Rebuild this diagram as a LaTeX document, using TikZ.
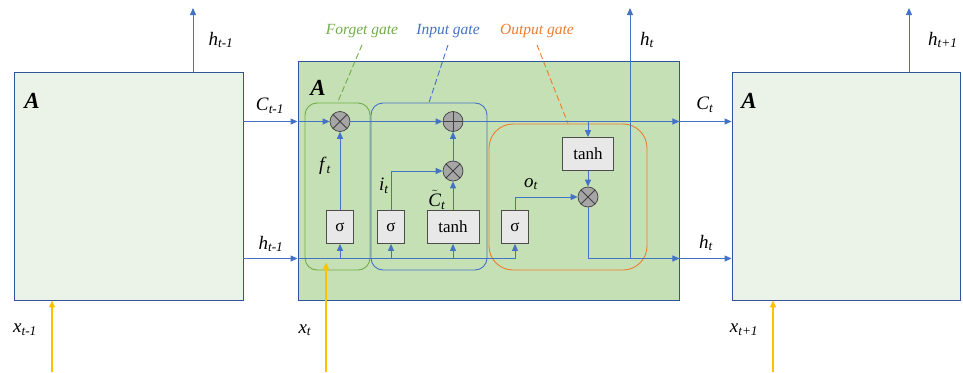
\documentclass[tikz,border=0pt]{standalone}
\usepackage{fontspec}
\setmainfont{Liberation Serif}
\usepackage{xcolor}
\usetikzlibrary{arrows.meta}
\definecolor{flowblue}{HTML}{4472C4}
\definecolor{edgeblue}{HTML}{2F5597}
\definecolor{cellfill}{HTML}{C5E0B4}
\definecolor{palefill}{HTML}{EBF3E8}
\definecolor{forgetgreen}{HTML}{70AD47}
\definecolor{outorange}{HTML}{ED7D31}
\definecolor{inyellow}{HTML}{FFC000}
\newcommand{\lbl}[2]{\textit{#1}\textsubscript{\textit{#2}}}

\begin{document}
\begin{tikzpicture}[x=1pt,y=-1pt,every node/.style={inner sep=0pt,font=\fontsize{19}{19}\selectfont},
  unit/.style={draw=edgeblue,line width=0.9pt,minimum width=229pt,minimum height=228pt},
  gatebox/.style={draw=black!70,fill=black!9,line width=0.8pt,minimum width=27pt,minimum height=33pt,font=\fontsize{17}{17}\selectfont},
  op/.style={circle,draw=black!75,fill=black!35,line width=0.7pt,minimum size=20pt},
  mul/.style={op,path picture={\draw[black!75,line width=0.8pt] (path picture bounding box.north west) -- (path picture bounding box.south east) (path picture bounding box.north east) -- (path picture bounding box.south west);}},
  add/.style={op,path picture={\draw[black!75,line width=0.8pt] (path picture bounding box.north) -- (path picture bounding box.south) (path picture bounding box.east) -- (path picture bounding box.west);}},
  region/.style={line width=0.9pt,rounded corners=12pt},
  flow/.style={draw=flowblue,line width=1pt,-{Triangle[length=7pt,width=6pt]}},
  wire/.style={draw=flowblue,line width=1pt},
  xin/.style={draw=inyellow,line width=1.2pt,-{Triangle[length=7pt,width=6pt]}},
  leader/.style={line width=0.9pt,dash pattern=on 6pt off 3pt},
  gatename/.style={font=\fontsize{15.5}{15.5}\selectfont\itshape},
  bigA/.style={font=\fontsize{23}{23}\selectfont\bfseries\itshape}]
\useasboundingbox (0,0) rectangle (963,372);
\node[unit,fill=palefill] (prev) at (128.5,186) {};
\node[unit,fill=cellfill,minimum width=381pt,minimum height=239pt] (cell) at (488.5,180.5) {};
\node[unit,fill=palefill,minimum width=228pt] (next) at (846,186) {};
\node[bigA] (aprev) at (32,101) {A};
\node[bigA] (acell) at (318,88) {A};
\node[bigA] (anext) at (749,101) {A};
\node[draw=forgetgreen,region,minimum width=65pt,minimum height=167pt] (fgate) at (337.5,186.5) {};
\node[draw=flowblue,region,minimum width=116pt,minimum height=167pt] (igate) at (429,186.5) {};
\node[draw=outorange,region,rounded corners=24pt,minimum width=158pt,minimum height=146pt] (ogate) at (568,197) {};
\node[gatename,text=forgetgreen] (flab) at (362,31) {Forget gate};
\node[gatename,text=flowblue] (ilab) at (448,31) {Input gate};
\node[gatename,text=outorange] (olab) at (537,31) {Output gate};
\draw[leader,forgetgreen] (flab.south) ++(0,7) -- (fgate.north);
\draw[leader,flowblue] (ilab.south) ++(0,7) -- (igate.north);
\draw[leader,outorange] (olab.south) ++(0,7) -- (ogate.north);
\node[mul] (fmul) at (340,121.5) {};
\node[add] (cadd) at (453,121.5) {};
\node[mul] (imul) at (453,171) {};
\node[mul] (omul) at (588,197) {};
\node[gatebox] (fsig) at (340,227) {σ};
\node[gatebox] (isig) at (391,227) {σ};
\node[gatebox,minimum width=52pt] (itanh) at (453,227) {tanh};
\node[gatebox] (osig) at (515,227) {σ};
\node[gatebox,minimum width=51pt] (otanh) at (588,154) {tanh};
\coordinate (hrow) at (0,258.5);
\coordinate (hprev) at (193,8);
\coordinate (hcell) at (630,8);
\coordinate (hnext) at (909,8);
\coordinate (xprev) at (52,372);
\coordinate (xcell) at (326,372);
\coordinate (xnext) at (773,372);
% cell state
\draw[flow] (prev.east |- fmul) -- (cell.west |- fmul);
\draw[flow] (cell.west |- fmul) -- (fmul);
\draw[flow] (fmul) -- (cadd);
\draw[flow] (cadd) -- (cell.east |- cadd);
\draw[flow] (cell.east |- cadd) -- (next.west |- cadd);
\draw[flow] (otanh |- cadd) -- (otanh.north);
% hidden state
\draw[flow] (prev.east |- hrow) -- (cell.west |- hrow);
\draw[wire] (cell.west |- hrow) -- (osig |- hrow);
\draw[flow] (fsig |- hrow) -- (fsig);
\draw[flow] (isig |- hrow) -- (isig);
\draw[flow] (itanh |- hrow) -- (itanh);
\draw[flow] (osig |- hrow) -- (osig);
\draw[flow] (fsig) -- (fmul);
\draw[flow] (isig.north) |- (imul);
\draw[flow] (itanh) -- (imul);
\draw[flow] (imul) -- (cadd);
\draw[flow] (osig.north) |- (omul);
\draw[flow] (otanh) -- (omul);
\draw[wire] (omul) -- (omul |- hrow) -- (cell.east |- hrow);
\draw[flow] (omul |- hrow) -- (cell.east |- hrow);
\draw[flow] (cell.east |- hrow) -- (next.west |- hrow);
\draw[flow] (hcell |- hrow) -- (hcell);
\draw[flow] (prev.north -| hprev) -- (hprev);
\draw[flow] (next.north -| hnext) -- (hnext);
\draw[xin] (xprev) -- (prev.south -| xprev);
\draw[xin,shorten >=4pt] (xcell) -- (xcell |- hrow);
\draw[xin] (xnext) -- (next.south -| xnext);
% labels
\node (lhp) at (221,40) {\lbl{h}{t-1}};
\node (lcp) at (270,106) {\lbl{C}{t-1}};
\node (lhp2) at (271,244) {\lbl{h}{t-1}};
\node (lxp) at (25,330) {\lbl{x}{t-1}};
\node (lf) at (325,166) {\lbl{f}{t}};
\node (li) at (384,186) {\lbl{i}{t}};
\node (lc) at (437,200) {$\tilde{\textit{C}}$\textsubscript{\textit{t}}};
\node (lo) at (531,184) {\lbl{o}{t}};
\node (lxc) at (305,330) {\lbl{x}{t}};
\node (lhc) at (647,40) {\lbl{h}{t}};
\node (lcc) at (705,105) {\lbl{C}{t}};
\node (lhc2) at (706,243) {\lbl{h}{t}};
\node[anchor=west] (lhn) at (928,40) {\lbl{h}{t+1}};
\node (lxn) at (744,330) {\lbl{x}{t+1}};
\end{tikzpicture}
\end{document}
